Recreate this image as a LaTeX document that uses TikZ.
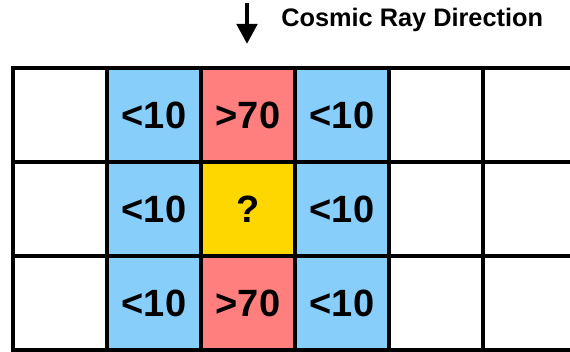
\documentclass[tikz,border=0pt]{standalone}
\usepackage{fontspec}
\setmainfont{Liberation Sans}
\usepackage{xcolor}
\usetikzlibrary{positioning, arrows.meta}

\definecolor{cellblue}{RGB}{135,206,250}
\definecolor{cellred}{RGB}{255,127,127}
\definecolor{cellyellow}{RGB}{255,215,0}

\begin{document}
\begin{tikzpicture}[
		x=0.75pt, y=-0.75pt,
		cell/.style={draw, rectangle, minimum width=70.5pt, minimum height=70.5pt,
			inner sep=0pt, line width=3pt, fill=white, align=center,
			font=\fontsize{28.5}{30}\selectfont\bfseries},
		raylabel/.style={anchor=west, inner sep=0pt, font=\fontsize{19}{22}\selectfont\bfseries},
		rayarrow/.style={-{Triangle[length=15pt, width=15pt]}, line width=3.5pt},
		]
		
		\useasboundingbox (0,0) rectangle (570,352);
		
		% Detektorzellen
		\foreach \r/\midfill/\midtext in {1/cellred/{>70}, 2/cellyellow/{?}, 3/cellred/{>70}} {
			\pgfmathsetmacro{\y}{115+94*(\r-1)}
			\node[cell] (c\r-1) at (60,\y) {};
			\node[cell, fill=cellblue] (c\r-2) at (154,\y) {<10};
			\node[cell, fill=\midfill] (c\r-3) at (248,\y) {\midtext};
			\node[cell, fill=cellblue] (c\r-4) at (342,\y) {<10};
			\node[cell] (c\r-5) at (436,\y) {};
			\node[cell] (c\r-6) at (530,\y) {};
		}
		
		% Einfallsrichtung
		\coordinate (raytop) at (247,3);
		\coordinate (raytip) at (247,44);
		\draw[rayarrow] (raytop) -- (raytip);
		\node[raylabel] (raytext) at (281,20) {Cosmic Ray Direction};
		
	\end{tikzpicture}
\end{document}
